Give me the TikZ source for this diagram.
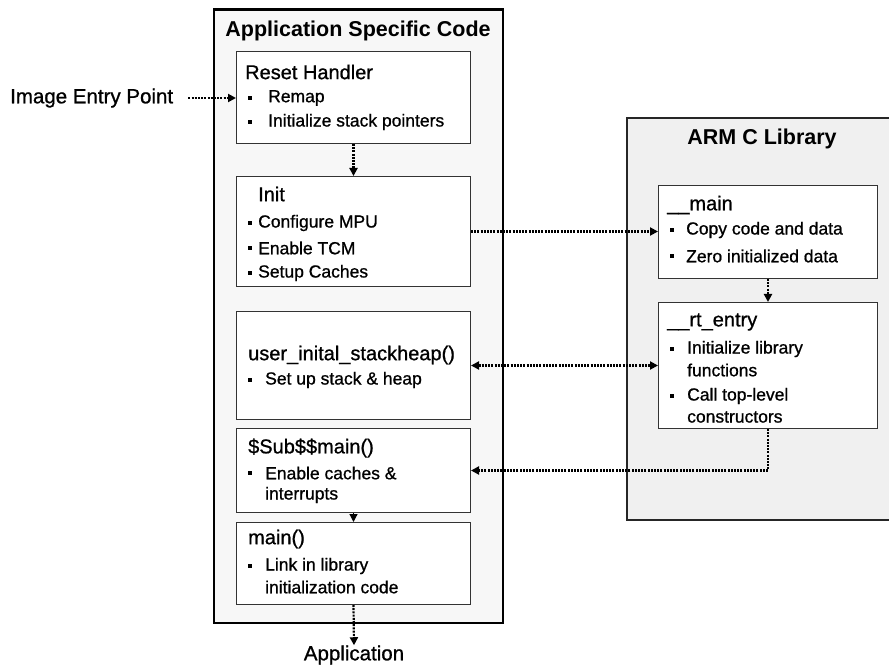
\documentclass[tikz,border=0pt]{standalone}
\usepackage{fontspec}
\setmainfont{Liberation Sans}
\newfontfamily\heavyfont[FakeBold=0.9]{Liberation Sans}
\usetikzlibrary{arrows.meta,calc}
\begin{document}
\begin{tikzpicture}[x=1pt,y=-1pt,
  inbox/.style={draw=black!80,line width=1pt,fill=white,anchor=north west,inner sep=0pt},
  title/.style={font=\fontsize{21.5}{24}\selectfont\bfseries,inner sep=0pt},
  head/.style={font=\heavyfont\fontsize{20}{24}\selectfont,anchor=west,inner sep=0pt},
  item/.style={font=\heavyfont\fontsize{17.5}{21}\selectfont,anchor=west,inner sep=0pt},
  lbl/.style={font=\heavyfont\fontsize{20.5}{24}\selectfont,inner sep=0pt},
  bul/.style={fill=black,minimum size=4pt,inner sep=0pt},
  conn/.style={line width=2.2pt,dash pattern=on 2pt off 1.2pt,-{Triangle[length=8pt,width=8pt]}},
  conn2/.style={line width=2.2pt,dash pattern=on 2pt off 1.2pt,{Triangle[length=8pt,width=8pt]}-{Triangle[length=8pt,width=8pt]}}
]
\useasboundingbox (0,0) rectangle (889,668);
\fill[white] (0,0) rectangle (889,668);
% outer containers
\node[draw=black,line width=2.4pt,fill=black!3,minimum width=289pt,minimum height=613pt,anchor=north west,inner sep=0pt] (app) at (213,8.5) {};
\node[draw=black!85,line width=2pt,fill=black!6,minimum width=265pt,minimum height=402pt,anchor=north west,inner sep=0pt] (arm) at (626,117) {};
\node[title] (apptitle) at (358,31) {Application Specific Code};
\node[title] (armtitle) at (762,139) {ARM C Library};
% inner boxes
\node[inbox,minimum width=234pt,minimum height=92pt] (reset) at (236,51) {};
\node[inbox,minimum width=234pt,minimum height=110pt] (init) at (236,176) {};
\node[inbox,minimum width=234pt,minimum height=108pt] (ustack) at (236,311) {};
\node[inbox,minimum width=234pt,minimum height=84pt] (sub) at (236,428) {};
\node[inbox,minimum width=234pt,minimum height=82pt] (mainf) at (236,522) {};
\node[inbox,minimum width=219pt,minimum height=93pt] (lmain) at (658,185) {};
\node[inbox,minimum width=219pt,minimum height=126pt] (rtentry) at (658,302) {};
% texts: reset
\node[head] (th1) at (245,72) {Reset Handler};
\node[bul] (b11) at (250,98) {}; \node[item] (t11) at (268,98) {Remap};
\node[bul] (b12) at (250,122) {}; \node[item] (t12) at (268,122) {Initialize stack pointers};
% init
\node[head] (th2) at (258,194) {Init};
\node[bul] (b21) at (250,223) {}; \node[item] (t21) at (258,223) {Configure MPU};
\node[bul] (b22) at (250,248) {}; \node[item] (t22) at (258,248) {Enable TCM};
\node[bul] (b23) at (250,273) {}; \node[item] (t23) at (258,273) {Setup Caches};
% user stack
\node[head] (th3) at (248,355) {user\_inital\_stackheap()};
\node[bul] (b31) at (250,380) {}; \node[item] (t31) at (265,380) {Set up stack \& heap};
% sub main
\node[head] (th4) at (248,448) {\$Sub\$\$main()};
\node[bul] (b41) at (250,473) {}; \node[item] (t41) at (265,473) {Enable caches \&};
\node[item] (t42) at (265,495) {interrupts};
% main
\node[head] (th5) at (248,539) {main()};
\node[bul] (b51) at (250,566) {}; \node[item] (t51) at (265,566) {Link in library};
\node[item] (t52) at (265,587) {initialization code};
% __main
\node[head] (th6) at (667,205) {\_\_main};
\node[bul] (b61) at (672,230) {}; \node[item] (t61) at (686,230) {Copy code and data};
\node[bul] (b62) at (672,256) {}; \node[item] (t62) at (686,256) {Zero initialized data};
% __rt_entry
\node[head] (th7) at (667,322) {\_\_rt\_entry};
\node[bul] (b71) at (672,349) {}; \node[item] (t71) at (687,349) {Initialize library};
\node[item] (t72) at (687,370) {functions};
\node[bul] (b72) at (672,396) {}; \node[item] (t73) at (687,396) {Call top-level};
\node[item] (t74) at (687,417) {constructors};
% external labels
\node[lbl,anchor=west] (iep) at (10,98) {Image Entry Point};
\node[lbl] (appl) at (354,655) {Application};
% connectors
\draw[conn] ([xshift=15pt]iep.east) -- (iep.east -| reset.west);
\draw[conn] (reset.south) -- (init.north);
\draw[conn] (init.east) -- (init.east -| lmain.west);
\draw[conn2] (ustack.east) -- (ustack.east -| rtentry.west);
\draw[conn] (lmain.south) -- (rtentry.north);
\draw[conn] (rtentry.south) |- (sub.east);
\draw[line width=1.2pt,-{Triangle[length=8pt,width=8pt]}] (sub.south) -- (mainf.north);
\draw[conn] (mainf.south) -- (appl.north);
\end{tikzpicture}
\end{document}
